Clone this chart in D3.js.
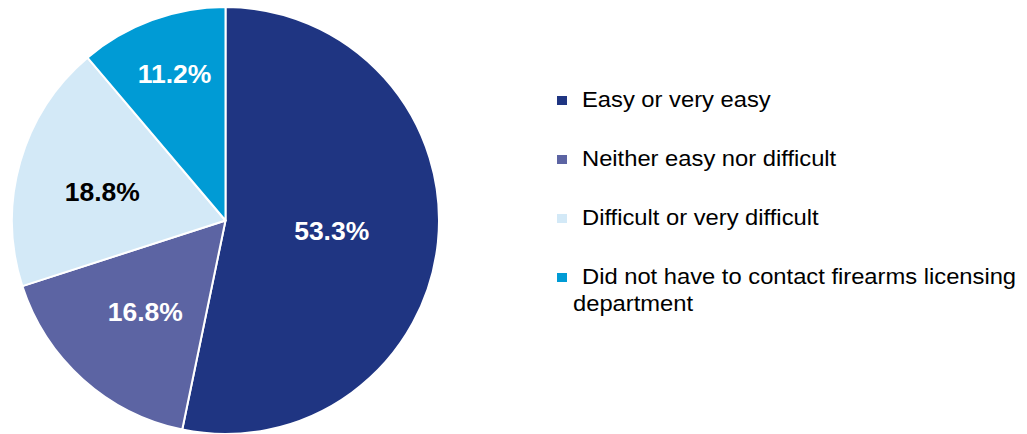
<!DOCTYPE html>
<html>
<head>
<meta charset="utf-8">
<script src="https://cdn.jsdelivr.net/npm/d3@7"></script>
<style>
  html, body { margin: 0; padding: 0; background: #fff; }
  svg { display: block; font-family: "Liberation Sans", Arial, sans-serif; }
</style>
</head>
<body>
<svg id="chart" width="1027" height="434"></svg>
<script>
// Survey responses: ease of contacting the firearms licensing department
const categories = [
  "Easy or very easy",
  "Neither easy nor difficult",
  "Difficult or very difficult",
  "Did not have to contact firearms licensing department"
];
const values = [53.3, 16.8, 18.8, 11.2];
const valueLabels = ["53.3%", "16.8%", "18.8%", "11.2%"];

const colors = ["#1f3582", "#5c64a3", "#d3e9f7", "#009bd5"];
const labelColors = ["#ffffff", "#ffffff", "#000000", "#ffffff"];
// relative distance of each value label from the centre, plus small nudges
const labelRadiusFactor = [0.5, 0.57, 0.6, 0.72];
const labelNudge = [[0, 0], [1, 1], [0, 7], [2, -2]];

const svg = d3.select("#chart");
const cx = 225.5, cy = 220.5, r = 213.5;

const pie = d3.pie().sort(null).value(d => d)(values);
const arc = d3.arc().innerRadius(0).outerRadius(r);

const g = svg.append("g").attr("transform", `translate(${cx},${cy})`);

g.selectAll("path.slice")
  .data(pie)
  .join("path")
  .attr("class", "slice")
  .attr("d", arc)
  .attr("fill", (d, i) => colors[i])
  .attr("stroke", "#ffffff")
  .attr("stroke-width", 2)
  .attr("stroke-linejoin", "round");

g.selectAll("text.value")
  .data(pie)
  .join("text")
  .attr("class", "value")
  .attr("transform", (d, i) => {
    const lr = r * labelRadiusFactor[i];
    const c = d3.arc().innerRadius(lr).outerRadius(lr).centroid(d);
    return `translate(${c[0] + labelNudge[i][0]},${c[1] + labelNudge[i][1]}) scale(1.06,1)`;
  })
  .attr("text-anchor", "middle")
  .attr("dy", "0.36em")
  .attr("font-size", 25)
  .attr("font-weight", "bold")
  .attr("fill", (d, i) => labelColors[i])
  .text((d, i) => valueLabels[i]);

// Legend
const legend = svg.append("g").attr("transform", "translate(557,0)");
const rowY = [107, 166, 225, 284];
const maxChars = 43;

categories.forEach((name, i) => {
  const row = legend.append("g");
  row.append("rect")
    .attr("x", 0)
    .attr("y", rowY[i] - 11)
    .attr("width", 10)
    .attr("height", 9)
    .attr("fill", colors[i]);

  // wrap long names onto a second line
  const words = name.split(" ");
  const lines = [];
  let cur = "";
  words.forEach(w => {
    const next = cur ? cur + " " + w : w;
    if (next.length > maxChars && cur) { lines.push(cur); cur = w; }
    else cur = next;
  });
  lines.push(cur);

  lines.forEach((ln, j) => {
    row.append("text")
      .attr("transform", `translate(${j === 0 ? 25 : 16},${rowY[i] + j * 27}) scale(1.08,1)`)
      .attr("font-size", 22)
      .attr("fill", "#000")
      .text(ln);
  });
});
</script>
</body>
</html>
